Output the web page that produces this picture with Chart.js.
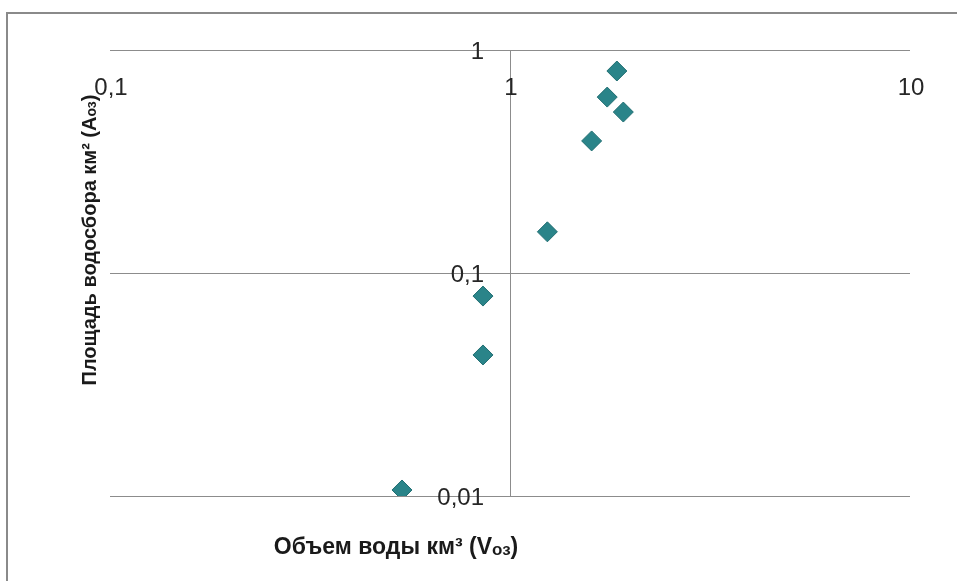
<!DOCTYPE html>
<html>
<head>
<meta charset="utf-8">
<script src="https://cdn.jsdelivr.net/npm/chart.js@4.4.1/dist/chart.umd.min.js"></script>
<style>
  html, body { margin: 0; padding: 0; background: #ffffff; }
  #wrap { position: relative; width: 957px; height: 581px; }
</style>
</head>
<body>
<div id="wrap"><canvas id="lakeChart" width="957" height="581"></canvas></div>
<script>
// volume of water, km3 (x) and catchment area, km2 (y)
var volumeValues = [1.85, 1.75, 1.92, 1.60, 1.24, 0.856, 0.856, 0.537];
var areaValues = [0.805, 0.615, 0.527, 0.391, 0.153, 0.0788, 0.0429, 0.01064];

// axis ticks
var xTickValues = [0.1, 1, 10];
var xTickLabels = ['0,1', '1', '10'];
var yTickValues = [0.01, 0.1, 1];
var yTickLabels = ['0,01', '0,1', '1'];

var xTitle = ['Объем воды км³ (V', 'оз', ')'];
var yTitle = ['Площадь водосбора км² (А', 'оз', ')'];

var points = volumeValues.map(function (v, i) {
    return { x: v, y: areaValues[i] };
});

// draws a title made of normal + small (subscript) parts
function drawPieces(ctx, pieces, cx, cy, rotate, size) {
    var big = 'bold ' + size + 'px "Liberation Sans", Arial, sans-serif';
    var small = 'bold ' + Math.round(size * 0.72) + 'px "Liberation Sans", Arial, sans-serif';
    var widths = pieces.map(function (p, i) {
        ctx.font = i === 1 ? small : big;
        return ctx.measureText(p).width;
    });
    var total = widths.reduce(function (a, b) { return a + b; }, 0);
    ctx.save();
    ctx.translate(cx, cy);
    if (rotate) ctx.rotate(-Math.PI / 2);
    ctx.fillStyle = '#1a1a1a';
    ctx.textBaseline = 'middle';
    ctx.textAlign = 'left';
    var pos = -total / 2;
    pieces.forEach(function (p, i) {
        ctx.font = i === 1 ? small : big;
        ctx.fillText(p, pos, i === 1 ? 2 : 0);
        pos += widths[i];
    });
    ctx.restore();
}

var framePlugin = {
    id: 'frame',
    beforeDraw: function (chart) {
        var ctx = chart.ctx;
        ctx.save();
        ctx.fillStyle = '#ffffff';
        ctx.fillRect(0, 0, chart.width, chart.height);
        ctx.strokeStyle = '#8a8a8a';
        ctx.lineWidth = 2;
        ctx.beginPath();
        ctx.moveTo(7, 590);
        ctx.lineTo(7, 13);
        ctx.lineTo(960, 13);
        ctx.stroke();
        ctx.restore();
    },
    afterDraw: function (chart) {
        var ctx = chart.ctx;
        var xs = chart.scales.x;
        var ys = chart.scales.y;
        ctx.save();
        ctx.font = '24px "Liberation Sans", Arial, sans-serif';
        ctx.fillStyle = '#262626';
        ctx.textBaseline = 'middle';
        ctx.textAlign = 'center';
        xTickValues.forEach(function (v, i) {
            ctx.fillText(xTickLabels[i], xs.getPixelForValue(v) + 1, 88);
        });
        ctx.textAlign = 'right';
        yTickValues.forEach(function (v, i) {
            ctx.fillText(yTickLabels[i], 484, ys.getPixelForValue(v) + 2);
        });
        ctx.restore();
        drawPieces(ctx, xTitle, 396, 548, false, 23);
        drawPieces(ctx, yTitle, 90, 240, true, 20);
    }
};

var ctx = document.getElementById('lakeChart').getContext('2d');
var lakeChart = new Chart(ctx, {
    type: 'scatter',
    data: {
        datasets: [{
            label: 'Озера',
            data: points,
            pointStyle: 'rectRot',
            pointRadius: 10,
            pointHoverRadius: 10,
            backgroundColor: '#2a8489',
            borderColor: '#226f73',
            borderWidth: 1
        }]
    },
    options: {
        responsive: false,
        animation: false,
        layout: { padding: { left: 110, right: 47, top: 50, bottom: 85 } },
        plugins: {
            legend: { display: false },
            tooltip: { enabled: false }
        },
        scales: {
            x: {
                type: 'logarithmic',
                min: 0.1,
                max: 10,
                afterBuildTicks: function (scale) {
                    scale.ticks = xTickValues.map(function (v) { return { value: v }; });
                },
                ticks: { display: false },
                border: { display: false },
                grid: {
                    drawTicks: false,
                    lineWidth: 1,
                    color: function (c) {
                        return c.tick && c.tick.value === 1 ? '#8c8c8c' : 'rgba(0,0,0,0)';
                    }
                }
            },
            y: {
                type: 'logarithmic',
                min: 0.01,
                max: 1,
                afterBuildTicks: function (scale) {
                    scale.ticks = yTickValues.map(function (v) { return { value: v }; });
                },
                ticks: { display: false },
                border: { display: false },
                grid: {
                    drawTicks: false,
                    lineWidth: 1,
                    color: '#8c8c8c'
                }
            }
        }
    },
    plugins: [framePlugin]
});
</script>
</body>
</html>
